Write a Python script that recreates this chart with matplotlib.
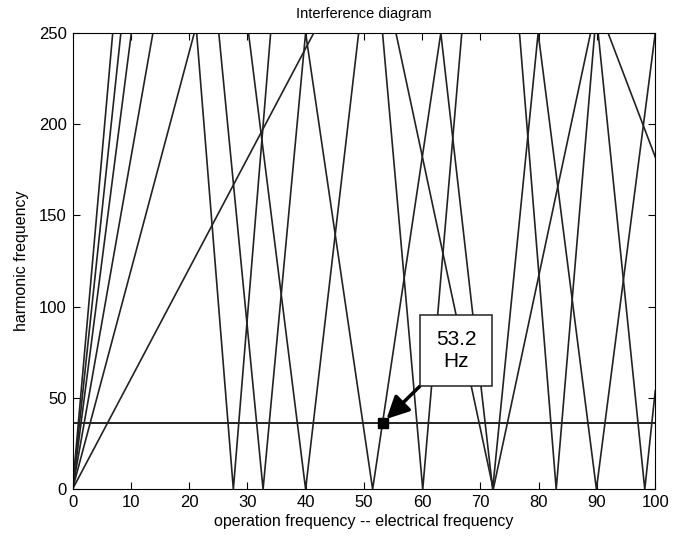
import matplotlib
matplotlib.use("Agg")
import matplotlib.pyplot as plt

plt.rcParams['font.family'] = ['Liberation Sans', 'DejaVu Sans']

# lines starting at the origin, x where each one reaches the top (250)
ray_tops = [6.9, 8.3, 10.1, 13.8, 20.9, 41.4]

# zig-zag harmonic lines, vertices
zig_a_x = [21.3, 27.6, 34.0]
zig_a_y = [250, 0, 250]
zig_b_x = [25.1, 32.7, 40.0, 51.5, 63.2, 72.1, 79.9, 89.9, 100.0]
zig_b_y = [250, 0, 250, 0, 250, 0, 250, 0, 250]
zig_c_x = [30.2, 40.0, 49.1]
zig_c_y = [250, 0, 250]
zig_d_x = [53.2, 60.1, 66.8]
zig_d_y = [250, 0, 250]
zig_e_x = [76.7, 83.0, 89.6]
zig_e_y = [250, 0, 250]
zig_f_x = [90.2, 98.2, 100.0]
zig_f_y = [250, 0, 54]
slow_a_x = [55.5, 72.2, 88.9]
slow_a_y = [250, 0, 250]
slow_b_x = [91.9, 100.0]
slow_b_y = [250, 182]

# interference level and marked point
h_level = 36.4
mark_x = 53.2
mark_label = "53.2\nHz"

fig = plt.figure(figsize=(6.84, 5.40), dpi=100)
ax = fig.add_axes([0.106, 0.094, 0.852, 0.845])

for top in ray_tops:
    ax.plot([0, top], [0, 250], color='#222222', lw=1.2)

zigs = [(zig_a_x, zig_a_y), (zig_b_x, zig_b_y), (zig_c_x, zig_c_y),
        (zig_d_x, zig_d_y), (zig_e_x, zig_e_y), (zig_f_x, zig_f_y),
        (slow_a_x, slow_a_y), (slow_b_x, slow_b_y)]
for xs, ys in zigs:
    ax.plot(xs, ys, color='#222222', lw=1.2)

ax.plot([0, 100], [h_level, h_level], color='#222222', lw=1.4)
ax.plot([mark_x], [h_level], marker='s', color='black', markersize=7)

ax.annotate(mark_label, xy=(mark_x, h_level), xytext=(65.8, 76),
            ha='center', va='center', fontsize=15, linespacing=1.15,
            bbox=dict(boxstyle='square,pad=0.75', fc='white', ec='#222222', lw=1.1),
            arrowprops=dict(arrowstyle='-|>,head_length=0.9,head_width=0.45',
                            color='black', lw=2.5, relpos=(0.0, 0.0),
                            shrinkA=0, shrinkB=4))

ax.set_xlim(0, 100)
ax.set_ylim(0, 250)
ax.set_xticks(range(0, 101, 10))
ax.set_yticks(range(0, 251, 50))
ax.tick_params(direction='in', top=True, right=True, labelsize=12, length=5, pad=4)
ax.set_title('Interference diagram', fontsize=10.5, pad=11)
ax.set_xlabel('operation frequency -- electrical frequency', fontsize=11.5, labelpad=3)
ax.set_ylabel('harmonic frequency', fontsize=11.5, labelpad=7)

fig.savefig('out.png', dpi=100)
